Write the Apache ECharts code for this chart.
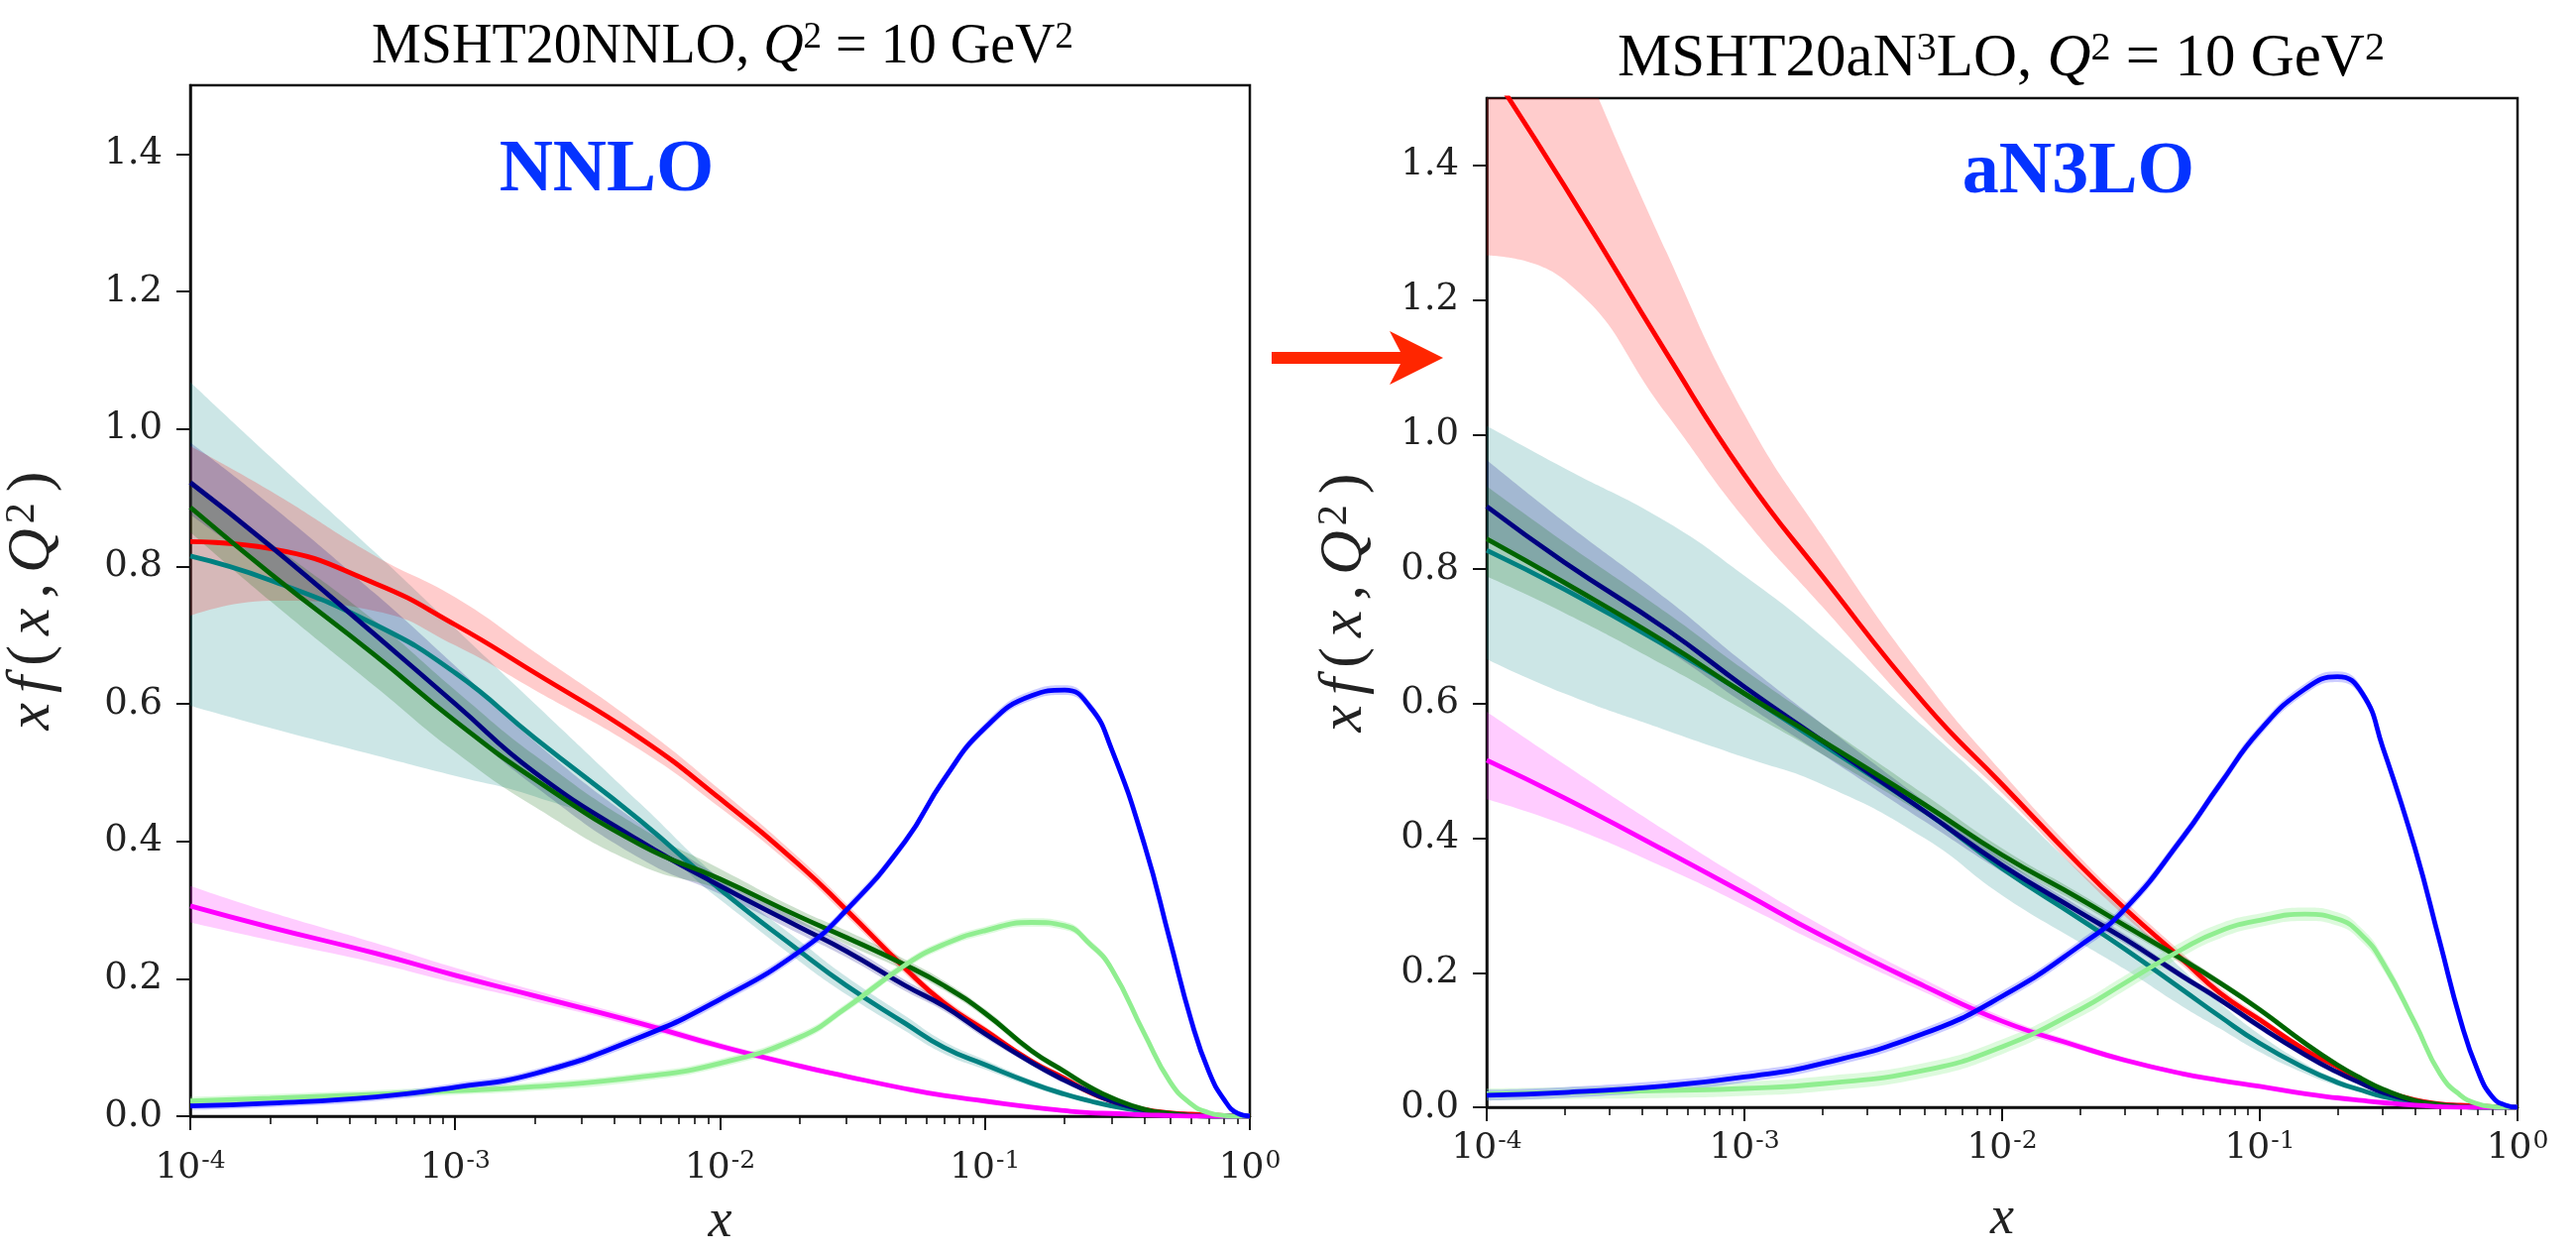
<!DOCTYPE html>
<html>
<head>
<meta charset="utf-8">
<script src="https://cdn.jsdelivr.net/npm/echarts@6/dist/echarts.min.js"></script>
<style>
  html, body { margin: 0; padding: 0; background: #fff; }
  #pdfChart { width: 2599px; height: 1265px; }
</style>
</head>
<body>
<div id="pdfChart"></div>
<script>
// x grid shared by every curve
const xs = [1e-4, 2e-4, 5e-4, 1e-3, 2e-3, 5e-3, 1e-2, 2e-2, 3e-2, 5e-2, 7e-2, 0.1, 0.15, 0.2, 0.25, 0.3, 0.4, 0.5, 0.6, 0.7, 0.8, 0.9, 1.0];

// tick values
const xMajorTicks = [1e-4, 1e-3, 1e-2, 1e-1, 1];
const xMinorTicks = [2e-4, 3e-4, 4e-4, 5e-4, 6e-4, 7e-4, 8e-4, 9e-4,
                     2e-3, 3e-3, 4e-3, 5e-3, 6e-3, 7e-3, 8e-3, 9e-3,
                     2e-2, 3e-2, 4e-2, 5e-2, 6e-2, 7e-2, 8e-2, 9e-2,
                     0.2, 0.3, 0.4, 0.5, 0.6, 0.7, 0.8, 0.9];
const yTicks = [0, 0.2, 0.4, 0.6, 0.8, 1.0, 1.2, 1.4];

// ---- MSHT20NNLO ----
const nnloRed      = [0.836, 0.826, 0.775, 0.715, 0.645, 0.55, 0.462, 0.365, 0.3, 0.215, 0.165, 0.125, 0.08, 0.055, 0.034, 0.022, 0.01, 0.005, 0.003, 0.002, 0.001, 0.0005, 0];
const nnloRedLo    = [0.728, 0.75, 0.735, 0.685, 0.62, 0.533, 0.449, 0.355, 0.291, 0.207, 0.158, 0.119, 0.076, 0.052, 0.032, 0.02, 0.009, 0.004, 0.002, 0.001, 0.0005, 0, 0];
const nnloRedHi    = [0.975, 0.91, 0.815, 0.755, 0.675, 0.568, 0.475, 0.375, 0.309, 0.223, 0.172, 0.131, 0.084, 0.058, 0.036, 0.024, 0.011, 0.006, 0.004, 0.003, 0.0015, 0.001, 0];
const nnloBlue     = [0.015, 0.019, 0.028, 0.042, 0.062, 0.115, 0.17, 0.24, 0.3, 0.4, 0.49, 0.565, 0.612, 0.62, 0.595, 0.535, 0.395, 0.255, 0.14, 0.065, 0.024, 0.004, 0];
const nnloBlueLo   = [0.009, 0.013, 0.022, 0.036, 0.056, 0.108, 0.163, 0.233, 0.293, 0.393, 0.483, 0.558, 0.605, 0.613, 0.588, 0.528, 0.388, 0.248, 0.134, 0.06, 0.02, 0.002, 0];
const nnloBlueHi   = [0.021, 0.025, 0.034, 0.048, 0.068, 0.122, 0.177, 0.247, 0.307, 0.407, 0.497, 0.572, 0.619, 0.627, 0.602, 0.542, 0.402, 0.262, 0.146, 0.07, 0.028, 0.006, 0];
const nnloLgreen   = [0.022, 0.026, 0.032, 0.037, 0.043, 0.057, 0.077, 0.115, 0.158, 0.22, 0.25, 0.27, 0.282, 0.277, 0.25, 0.215, 0.12, 0.05, 0.018, 0.005, 0.001, 0, 0];
const nnloLgreenLo = [0.016, 0.02, 0.026, 0.031, 0.037, 0.051, 0.071, 0.109, 0.152, 0.214, 0.244, 0.264, 0.276, 0.271, 0.244, 0.209, 0.115, 0.046, 0.015, 0.003, 0, 0, 0];
const nnloLgreenHi = [0.028, 0.032, 0.038, 0.043, 0.049, 0.063, 0.083, 0.121, 0.164, 0.226, 0.256, 0.276, 0.288, 0.283, 0.256, 0.221, 0.125, 0.054, 0.021, 0.007, 0.002, 0, 0];
const nnloMagenta  = [0.306, 0.275, 0.237, 0.205, 0.175, 0.135, 0.102, 0.073, 0.058, 0.04, 0.03, 0.022, 0.013, 0.008, 0.005, 0.004, 0.002, 0.001, 0, 0, 0, 0, 0];
const nnloMagentaLo= [0.282, 0.256, 0.223, 0.194, 0.167, 0.129, 0.097, 0.069, 0.055, 0.038, 0.028, 0.02, 0.012, 0.007, 0.004, 0.003, 0.001, 0, 0, 0, 0, 0, 0];
const nnloMagentaHi= [0.335, 0.297, 0.252, 0.216, 0.183, 0.141, 0.107, 0.077, 0.061, 0.042, 0.032, 0.024, 0.014, 0.009, 0.006, 0.005, 0.003, 0.002, 0.001, 0, 0, 0, 0];
const nnloNavy     = [0.922, 0.83, 0.70, 0.60, 0.50, 0.40, 0.335, 0.275, 0.24, 0.19, 0.16, 0.12, 0.078, 0.052, 0.035, 0.022, 0.009, 0.003, 0.001, 0, 0, 0, 0];
const nnloNavyLo   = [0.875, 0.79, 0.67, 0.575, 0.48, 0.375, 0.323, 0.265, 0.231, 0.182, 0.153, 0.114, 0.074, 0.048, 0.032, 0.02, 0.008, 0.002, 0, 0, 0, 0, 0];
const nnloNavyHi   = [0.98, 0.89, 0.76, 0.655, 0.545, 0.425, 0.348, 0.285, 0.249, 0.198, 0.167, 0.126, 0.082, 0.056, 0.038, 0.024, 0.01, 0.004, 0.002, 0, 0, 0, 0];
const nnloGreen    = [0.886, 0.79, 0.67, 0.575, 0.49, 0.395, 0.345, 0.29, 0.26, 0.22, 0.19, 0.15, 0.095, 0.065, 0.042, 0.027, 0.01, 0.004, 0.001, 0, 0, 0, 0];
const nnloGreenLo  = [0.85, 0.75, 0.625, 0.53, 0.45, 0.365, 0.33, 0.28, 0.25, 0.212, 0.183, 0.144, 0.09, 0.061, 0.039, 0.025, 0.009, 0.003, 0, 0, 0, 0, 0];
const nnloGreenHi  = [0.925, 0.835, 0.72, 0.62, 0.525, 0.42, 0.36, 0.3, 0.27, 0.228, 0.197, 0.156, 0.1, 0.069, 0.045, 0.029, 0.011, 0.005, 0.002, 0, 0, 0, 0];
const nnloTeal     = [0.815, 0.78, 0.715, 0.645, 0.55, 0.43, 0.33, 0.24, 0.19, 0.135, 0.10, 0.075, 0.048, 0.032, 0.022, 0.015, 0.007, 0.003, 0.001, 0, 0, 0, 0];
const nnloTealLo   = [0.597, 0.565, 0.525, 0.495, 0.465, 0.405, 0.315, 0.225, 0.177, 0.124, 0.091, 0.068, 0.043, 0.028, 0.019, 0.013, 0.006, 0.002, 0, 0, 0, 0, 0];
const nnloTealHi   = [1.068, 0.96, 0.82, 0.71, 0.60, 0.455, 0.345, 0.255, 0.203, 0.146, 0.109, 0.082, 0.053, 0.036, 0.025, 0.017, 0.008, 0.004, 0.002, 0, 0, 0, 0];

// ---- MSHT20aN3LO ----
const an3Red       = [1.55, 1.37, 1.12, 0.94, 0.79, 0.60, 0.48, 0.36, 0.295, 0.22, 0.17, 0.13, 0.085, 0.06, 0.036, 0.024, 0.011, 0.005, 0.003, 0.002, 0.001, 0.0005, 0];
const an3RedLo     = [1.266, 1.23, 1.03, 0.875, 0.745, 0.575, 0.467, 0.348, 0.284, 0.211, 0.162, 0.124, 0.08, 0.056, 0.033, 0.022, 0.01, 0.004, 0.002, 0.001, 0.0005, 0, 0];
const an3RedHi     = [1.9, 1.62, 1.27, 1.03, 0.85, 0.635, 0.498, 0.372, 0.306, 0.229, 0.178, 0.136, 0.09, 0.064, 0.039, 0.026, 0.012, 0.006, 0.004, 0.003, 0.0015, 0.001, 0];
const an3Blue      = [0.018, 0.022, 0.032, 0.045, 0.065, 0.11, 0.165, 0.24, 0.295, 0.40, 0.48, 0.56, 0.622, 0.64, 0.615, 0.535, 0.385, 0.245, 0.13, 0.055, 0.015, 0.003, 0];
const an3BlueLo    = [0.01, 0.014, 0.024, 0.037, 0.057, 0.102, 0.157, 0.232, 0.287, 0.392, 0.472, 0.552, 0.614, 0.632, 0.607, 0.527, 0.377, 0.238, 0.124, 0.05, 0.011, 0.001, 0];
const an3BlueHi    = [0.026, 0.03, 0.04, 0.053, 0.073, 0.118, 0.173, 0.248, 0.303, 0.408, 0.488, 0.568, 0.63, 0.648, 0.623, 0.543, 0.393, 0.252, 0.136, 0.06, 0.019, 0.005, 0];
const an3Lgreen    = [0.02, 0.022, 0.025, 0.028, 0.035, 0.055, 0.09, 0.145, 0.185, 0.235, 0.262, 0.278, 0.287, 0.28, 0.255, 0.215, 0.125, 0.05, 0.018, 0.005, 0.001, 0, 0];
const an3LgreenLo  = [0.01, 0.012, 0.014, 0.017, 0.024, 0.044, 0.079, 0.134, 0.174, 0.224, 0.251, 0.268, 0.277, 0.27, 0.245, 0.205, 0.117, 0.044, 0.014, 0.003, 0, 0, 0];
const an3LgreenHi  = [0.028, 0.03, 0.034, 0.038, 0.046, 0.066, 0.101, 0.156, 0.196, 0.246, 0.273, 0.288, 0.297, 0.29, 0.265, 0.225, 0.133, 0.056, 0.022, 0.007, 0.002, 0, 0];
const an3Magenta   = [0.516, 0.46, 0.38, 0.318, 0.255, 0.18, 0.128, 0.09, 0.07, 0.05, 0.04, 0.031, 0.02, 0.014, 0.01, 0.007, 0.003, 0.001, 0, 0, 0, 0, 0];
const an3MagentaLo = [0.458, 0.42, 0.355, 0.3, 0.242, 0.171, 0.121, 0.085, 0.066, 0.047, 0.038, 0.029, 0.018, 0.013, 0.009, 0.006, 0.002, 0, 0, 0, 0, 0, 0];
const an3MagentaHi = [0.588, 0.51, 0.41, 0.338, 0.27, 0.19, 0.135, 0.095, 0.074, 0.053, 0.042, 0.033, 0.022, 0.015, 0.011, 0.008, 0.004, 0.002, 0.001, 0, 0, 0, 0];
const an3Navy      = [0.893, 0.81, 0.71, 0.625, 0.545, 0.44, 0.36, 0.29, 0.25, 0.195, 0.16, 0.12, 0.078, 0.052, 0.035, 0.022, 0.009, 0.003, 0.001, 0, 0, 0, 0];
const an3NavyLo    = [0.85, 0.775, 0.68, 0.6, 0.525, 0.425, 0.35, 0.282, 0.243, 0.19, 0.155, 0.115, 0.075, 0.049, 0.033, 0.02, 0.008, 0.002, 0, 0, 0, 0, 0];
const an3NavyHi    = [0.962, 0.87, 0.755, 0.66, 0.57, 0.455, 0.37, 0.298, 0.257, 0.2, 0.165, 0.125, 0.081, 0.055, 0.037, 0.024, 0.01, 0.004, 0.002, 0, 0, 0, 0];
const an3Green     = [0.845, 0.78, 0.69, 0.615, 0.545, 0.45, 0.375, 0.31, 0.27, 0.22, 0.185, 0.145, 0.095, 0.063, 0.042, 0.027, 0.01, 0.004, 0.001, 0, 0, 0, 0];
const an3GreenLo   = [0.789, 0.735, 0.655, 0.59, 0.525, 0.435, 0.365, 0.302, 0.263, 0.214, 0.18, 0.14, 0.091, 0.06, 0.04, 0.025, 0.009, 0.003, 0, 0, 0, 0, 0];
const an3GreenHi   = [0.923, 0.84, 0.735, 0.65, 0.57, 0.465, 0.385, 0.318, 0.277, 0.226, 0.19, 0.15, 0.099, 0.066, 0.044, 0.029, 0.011, 0.005, 0.002, 0, 0, 0, 0];
const an3Teal      = [0.828, 0.77, 0.685, 0.615, 0.54, 0.44, 0.355, 0.28, 0.235, 0.175, 0.135, 0.095, 0.058, 0.037, 0.025, 0.016, 0.007, 0.003, 0.001, 0, 0, 0, 0];
const an3TealLo    = [0.666, 0.615, 0.56, 0.52, 0.48, 0.40, 0.315, 0.245, 0.205, 0.15, 0.117, 0.082, 0.05, 0.032, 0.022, 0.014, 0.006, 0.002, 0, 0, 0, 0, 0];
const an3TealHi    = [1.013, 0.95, 0.87, 0.79, 0.70, 0.565, 0.46, 0.35, 0.29, 0.205, 0.155, 0.108, 0.065, 0.042, 0.028, 0.018, 0.008, 0.004, 0.002, 0, 0, 0, 0];

// colours (matplotlib named colours, bands at alpha 0.2)
const colors = {
  red:     ['#ff0000', 'rgba(255,0,0,0.2)'],
  blue:    ['#0000ff', 'rgba(0,0,255,0.2)'],
  lgreen:  ['#90ee90', 'rgba(144,238,144,0.3)'],
  magenta: ['#ff00ff', 'rgba(255,0,255,0.2)'],
  navy:    ['#000080', 'rgba(0,0,128,0.2)'],
  green:   ['#006400', 'rgba(0,100,0,0.2)'],
  teal:    ['#008080', 'rgba(0,128,128,0.2)']
};

const panels = [
  { grid: { left: 192, top: 86, width: 1069, height: 1046 }, xLabelMargin: 33, xNameGap: 80, yNameGap: 128,
    curves: [
      ['teal', nnloTeal, nnloTealLo, nnloTealHi],
      ['red', nnloRed, nnloRedLo, nnloRedHi],
      ['navy', nnloNavy, nnloNavyLo, nnloNavyHi],
      ['green', nnloGreen, nnloGreenLo, nnloGreenHi],
      ['magenta', nnloMagenta, nnloMagentaLo, nnloMagentaHi],
      ['lgreen', nnloLgreen, nnloLgreenLo, nnloLgreenHi],
      ['blue', nnloBlue, nnloBlueLo, nnloBlueHi]
    ] },
  { grid: { left: 1500, top: 99, width: 1040, height: 1018 }, xLabelMargin: 22, xNameGap: 86, yNameGap: 112,
    curves: [
      ['teal', an3Teal, an3TealLo, an3TealHi],
      ['red', an3Red, an3RedLo, an3RedHi],
      ['navy', an3Navy, an3NavyLo, an3NavyHi],
      ['green', an3Green, an3GreenLo, an3GreenHi],
      ['magenta', an3Magenta, an3MagentaLo, an3MagentaHi],
      ['lgreen', an3Lgreen, an3LgreenLo, an3LgreenHi],
      ['blue', an3Blue, an3BlueLo, an3BlueHi]
    ] }
];

const tickFont = 'DejaVu Serif';
const mathFont = 'Liberation Serif';
const SMOOTH = 0.5;

function pairs(ys) {
  return xs.map((x, i) => [x, ys[i]]);
}

const yNameRich = {
  i: { fontFamily: mathFont, fontStyle: 'italic', fontSize: 62, color: '#222', padding: [0, 5, 0, 5] },
  n: { fontFamily: mathFont, fontSize: 62, color: '#222', padding: [0, 5, 0, 5] },
  s: { fontFamily: mathFont, fontSize: 42, color: '#222', verticalAlign: 'top', padding: [0, 6, 0, 0] }
};

const grids = [], xAxes = [], yAxes = [], series = [];

panels.forEach((p, gi) => {
  grids.push(Object.assign({ show: true, borderColor: '#111', borderWidth: 2.5, backgroundColor: '#fff' }, p.grid));

  // main x axis (decades + labels)
  xAxes.push({
    type: 'log', logBase: 10, gridIndex: gi, min: 1e-4, max: 1, position: 'bottom',
    axisLine: { show: true, lineStyle: { color: '#111', width: 2.5 } },
    axisTick: { show: true, customValues: xMajorTicks, length: 14, lineStyle: { color: '#111', width: 2 } },
    axisLabel: {
      customValues: xMajorTicks, margin: p.xLabelMargin,
      formatter: v => '{b|10}{s|' + Math.round(Math.log10(v)) + '}',
      rich: {
        b: { fontFamily: tickFont, fontSize: 36, color: '#222' },
        s: { fontFamily: tickFont, fontSize: 25, color: '#222', verticalAlign: 'top', padding: [0, 0, 14, 1] }
      }
    },
    splitLine: { show: false },
    name: 'x', nameLocation: 'middle', nameGap: p.xNameGap,
    nameTextStyle: { fontFamily: mathFont, fontStyle: 'italic', fontSize: 54, color: '#222' }
  });
  // minor x ticks
  xAxes.push({
    type: 'log', logBase: 10, gridIndex: gi, min: 1e-4, max: 1, position: 'bottom', offset: 0,
    axisLine: { show: false },
    axisTick: { show: true, customValues: xMinorTicks, length: 8, lineStyle: { color: '#111', width: 1.6 } },
    axisLabel: { show: false },
    splitLine: { show: false }
  });

  yAxes.push({
    type: 'value', gridIndex: gi, min: 0, max: 1.5, interval: 0.2,
    axisLine: { show: true, lineStyle: { color: '#111', width: 2.5 } },
    axisTick: { show: true, customValues: yTicks, length: 14, lineStyle: { color: '#111', width: 2 } },
    axisLabel: {
      customValues: yTicks, margin: 28,
      formatter: v => v.toFixed(1),
      fontFamily: tickFont, fontSize: 37, color: '#222'
    },
    splitLine: { show: false },
    name: '{i|x}{i|f}{n|(}{i|x}{n|,}{i|Q}{s|2}{n|)}', nameLocation: 'middle', nameGap: p.yNameGap,
    nameTextStyle: { rich: yNameRich }
  });

  // uncertainty bands: transparent lower edge + stacked width.
  // value column first so the stack runs along y
  p.curves.forEach(([key, mid, lo, hi], ci) => {
    const common = {
      type: 'line', xAxisIndex: gi * 2, yAxisIndex: gi,
      stack: 'band' + gi + '_' + ci, stackStrategy: 'all',
      encode: { x: 1, y: 0 },
      smooth: SMOOTH, symbol: 'none', silent: true, z: 2,
      lineStyle: { width: 0, opacity: 0 }
    };
    series.push(Object.assign({}, common, { name: key + ' lo', data: xs.map((x, i) => [lo[i], x]) }));
    series.push(Object.assign({}, common, {
      name: key + ' band',
      data: xs.map((x, i) => [hi[i] - lo[i], x]),
      areaStyle: { color: colors[key][1], opacity: 1 }
    }));
  });
  // central lines on top
  p.curves.forEach(([key, mid]) => {
    series.push({
      type: 'line', name: key, xAxisIndex: gi * 2, yAxisIndex: gi,
      data: pairs(mid), smooth: SMOOTH, symbol: 'none', silent: true, z: 3,
      lineStyle: { color: colors[key][0], width: 4.8 }
    });
  });
});

function titleRich(size) {
  return {
    r: { fontFamily: mathFont, fontSize: size, color: '#222' },
    i: { fontFamily: mathFont, fontStyle: 'italic', fontSize: size, color: '#222' },
    s: { fontFamily: mathFont, fontSize: Math.round(size * 0.66), color: '#222', verticalAlign: 'top' }
  };
}

const chart = echarts.init(document.getElementById('pdfChart'), null, { renderer: 'canvas' });
chart.setOption({
  animation: false,
  backgroundColor: '#fff',
  grid: grids,
  xAxis: xAxes,
  yAxis: yAxes,
  series: series,
  graphic: [
    { type: 'text', x: 729, y: 48, z: 10,
      style: { text: '{r|MSHT20NNLO, }{i|Q}{s|2}{r| = 10 GeV}{s|2}', rich: titleRich(56), align: 'center', verticalAlign: 'middle' } },
    { type: 'text', x: 2019, y: 60, z: 10,
      style: { text: '{r|MSHT20aN}{s|3}{r|LO, }{i|Q}{s|2}{r| = 10 GeV}{s|2}', rich: titleRich(61), align: 'center', verticalAlign: 'middle' } },
    { type: 'text', x: 612, y: 173, z: 10,
      style: { text: 'NNLO', font: 'bold 75px "Liberation Serif"', fill: '#0433ff', align: 'center', verticalAlign: 'middle' } },
    { type: 'text', x: 2097, y: 175, z: 10,
      style: { text: 'aN3LO', font: 'bold 74px "Liberation Serif"', fill: '#0433ff', align: 'center', verticalAlign: 'middle' } },
    { type: 'polygon', z: 10,
      shape: { points: [[1283, 355], [1413, 355], [1402, 334], [1456, 361], [1402, 388], [1413, 367], [1283, 367]] },
      style: { fill: '#ff2600' } }
  ]
});
</script>
</body>
</html>
